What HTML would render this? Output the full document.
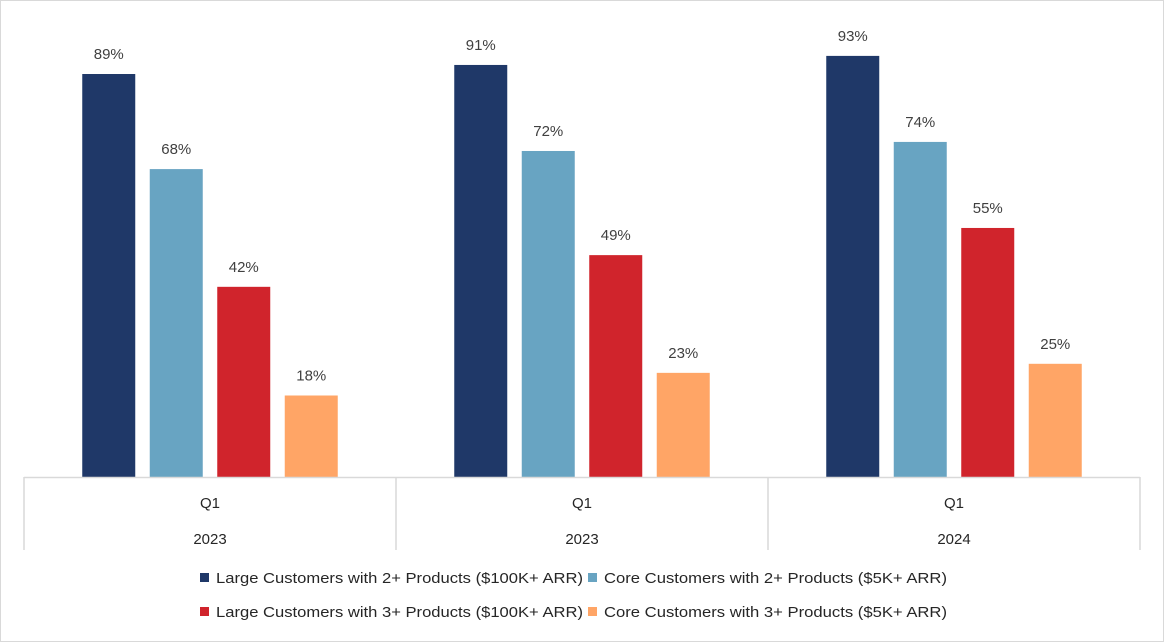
<!DOCTYPE html>
<html><head><meta charset="utf-8"><style>
html,body{margin:0;padding:0;background:#fff}
svg{display:block;font-family:"Liberation Sans",sans-serif}
</style></head><body>
<svg id="chart" width="1164" height="642" viewBox="0 0 1164 642">
<rect x="0.5" y="0.5" width="1163" height="641" fill="#fff" stroke="#d9d9d9"/>
<g id="bars"></g>
<g id="axis"></g>
<g id="legend"></g>
</svg>
<script>
const categories = ["Q1 2023","Q1 2023","Q1 2024"];
const quarters = ["Q1","Q1","Q1"];
const years = ["2023","2023","2024"];
const seriesNames = ["Large Customers with 2+ Products ($100K+ ARR)","Core Customers with 2+ Products ($5K+ ARR)","Large Customers with 3+ Products ($100K+ ARR)","Core Customers with 3+ Products ($5K+ ARR)"];
const large2 = [89,91,93];
const core2 = [68,72,74];
const large3 = [42,49,55];
const core3 = [18,23,25];
const series = [large2, core2, large3, core3];
const colors = ["#1f3868","#68a4c2","#d0242c","#ffa566"];
const NS="http://www.w3.org/2000/svg";
const plotL=24, plotR=1140, base=477, pxPer=4.528;
const groupW=(plotR-plotL)/categories.length;
const barW=53, step=67.5;
function y(v){return base - v*pxPer;}
function gx(i){return plotL + groupW*i + groupW/2;}
function mk(tag,attrs,parent){const e=document.createElementNS(NS,tag);for(const k in attrs)e.setAttribute(k,attrs[k]);parent.appendChild(e);return e;}
const bars=document.getElementById('bars');
series.forEach((s,si)=>{
  s.forEach((v,ci)=>{
    const x=gx(ci)-2*step+(step-barW)/2+si*step;
    const r=mk('rect',{x:x,y:y(v),width:barW,height:base-y(v),fill:colors[si]},bars);
    
    
    const t=mk('text',{x:x+barW/2,y:y(v)-15,'text-anchor':'middle','font-size':'15',fill:'#404040'},bars);
    t.textContent=v+'%';
    
    
  });
});
const axis=document.getElementById('axis');
const bl=mk('line',{x1:plotL,x2:plotR,y1:base+0.5,y2:base+0.5,stroke:'#d9d9d9','stroke-width':1.5},axis);


for(let i=0;i<=categories.length;i++){
  const xx=plotL+groupW*i;
  const d=mk('line',{x1:xx,x2:xx,y1:base,y2:550,stroke:'#d9d9d9','stroke-width':1.5},axis);
  
  
}
categories.forEach((c,i)=>{
  const q=mk('text',{x:gx(i),y:508,'text-anchor':'middle','font-size':'15',fill:'#262626'},axis);
  q.textContent=quarters[i];
  
  
  const yr=mk('text',{x:gx(i),y:544,'text-anchor':'middle','font-size':'15',fill:'#262626'},axis);
  yr.textContent=years[i];
  
  
});
const legend=document.getElementById('legend');
const lpos=[[200,578,367],[588,578,343],[200,612,367],[588,612,343]];
seriesNames.forEach((n,i)=>{
  const [lx,ly,tl]=lpos[i];
  const g=mk('g',{},legend);
  
  
  mk('rect',{x:lx,y:ly-5,width:9,height:9,fill:colors[i]},g);
  const t=mk('text',{x:lx+16,y:ly+5,'font-size':'15',fill:'#262626',textLength:tl,lengthAdjust:'spacingAndGlyphs'},g);
  t.textContent=n;
});
</script>
</body></html>
